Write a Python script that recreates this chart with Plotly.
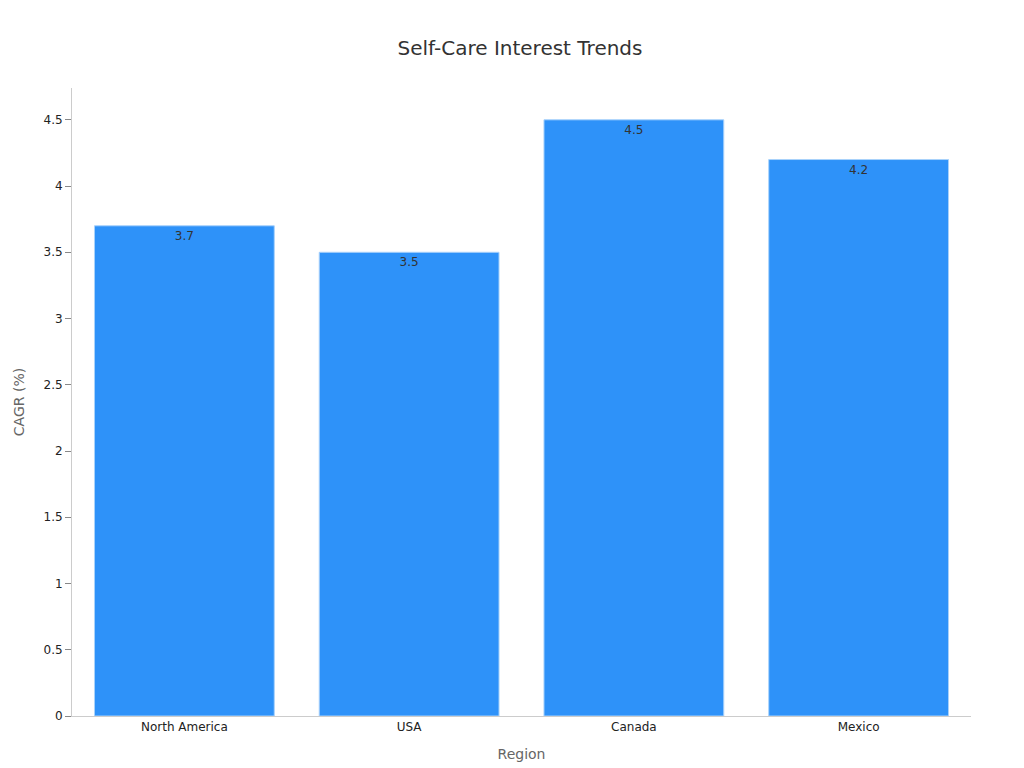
import plotly.graph_objects as go

regions = ["North America", "USA", "Canada", "Mexico"]
cagr = [3.7, 3.5, 4.5, 4.2]

fig = go.Figure(go.Bar(
    x=regions, y=cagr, text=cagr, textposition="inside", insidetextanchor="end",
    textfont=dict(color="#333333", size=12),
    marker=dict(color="#2e92f9", line=dict(color="#a9d2fb", width=1)),
    width=0.8,
))
fig.update_layout(
    width=1024, height=768,
    title=dict(text="Self-Care Interest Trends", x=0.5, y=0.957, font=dict(size=20, color="#333333")),
    font=dict(family="DejaVu Sans, sans-serif", size=12, color="#222222"),
    plot_bgcolor="white", paper_bgcolor="white",
    margin=dict(l=64, r=61, t=80, b=60),
    showlegend=False,
)
fig.update_xaxes(title=dict(text="Region", font=dict(size=14, color="#666666")),
                 showline=True, linecolor="#cccccc", ticks="", showgrid=False)
fig.update_yaxes(title=dict(text="CAGR (%)", font=dict(size=14, color="#666666")),
                 range=[0, 4.74], dtick=0.5, showline=True, linecolor="#cccccc",
                 ticks="outside", tickcolor="#888888", ticklen=6, showgrid=False, zeroline=False)
fig.write_html("out.html")
